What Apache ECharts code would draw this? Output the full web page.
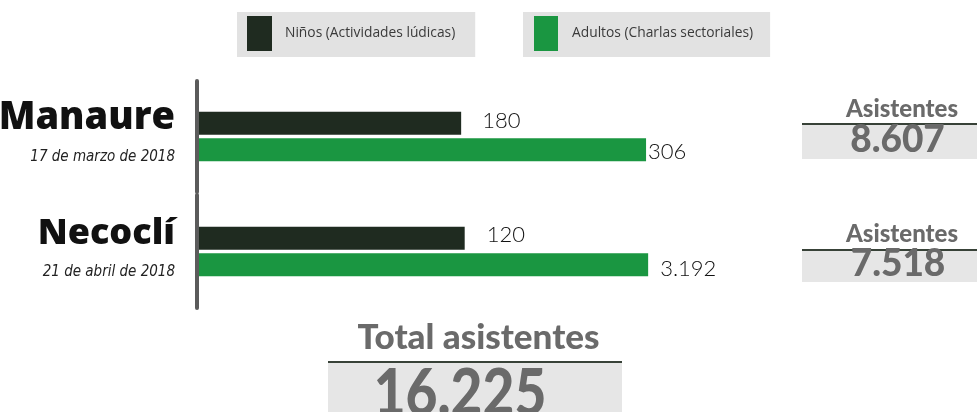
<!DOCTYPE html>
<html>
<head>
<meta charset="utf-8">
<script src="https://cdn.jsdelivr.net/npm/echarts@6/dist/echarts.min.js"></script>
<style>
html,body{margin:0;padding:0;background:#fff;}
#chart{width:977px;height:412px;}
</style>
</head>
<body>
<div id="chart"></div>
<script>
// ---- data ----
const locations = ['Manaure', 'Necoclí'];
const dates = ['17 de marzo de 2018', '21 de abril de 2018'];
const seriesNames = ['Niños (Actividades lúdicas)', 'Adultos (Charlas sectoriales)'];
const ninos = [180, 120];
const adultos = [306, 3192];
const asistentes = [8607, 7518];
const totalAsistentes = 16225;

// ---- styles ----
const DARK = '#1f2b20';
const GREEN = '#1a9641';
const GRAYTXT = '#6a6a6a';
const BOXFILL = '#e6e6e6';
const RULE = '#384238';
const CONDENSED = '"DejaVu Sans Condensed", "Liberation Sans Narrow", sans-serif';

function fmt(v) { return String(v).replace(/\B(?=(\d{3})+(?!\d))/g, '.'); }

const chart = echarts.init(document.getElementById('chart'), null, { renderer: 'canvas' });

const grids = [
  { left: 197, top: 81, width: 587, height: 111, outerBoundsMode: 'none', containLabel: false },
  { left: 197, top: 195, width: 515, height: 113, outerBoundsMode: 'none', containLabel: false }
];
const xAxes = [
  { gridIndex: 0, type: 'value', min: 0, max: 400, show: false },
  { gridIndex: 1, type: 'log', logBase: 10, min: 1, max: 10000, show: false }
];
const nameSizes = [38, 36];
const yAxes = locations.map((loc, i) => ({
  gridIndex: i,
  type: 'category',
  inverse: true,
  data: [loc],
  z: 5,
  axisLine: { show: true, lineStyle: { color: '#5b5b5b', width: 4 } },
  axisTick: { show: false },
  splitLine: { show: false },
  axisLabel: {
    margin: 22,
    align: 'right',
    formatter: (v) => '{n' + i + '|' + v + '}\n{d|' + dates[i] + '}',
    rich: {
      ['n' + i]: { fontFamily: 'Open Sans', fontWeight: 800, fontSize: nameSizes[i], color: '#111', lineHeight: 42, align: 'right' },
      d: { fontFamily: CONDENSED, fontStyle: 'italic', fontSize: 15, color: '#222', lineHeight: 36, align: 'right' }
    }
  }
}));

const labelBase = { show: true, position: 'right', fontFamily: 'Lato', fontWeight: 300, fontSize: 22, color: '#111', formatter: (p) => fmt(p.value) };
const ninosLabel = [{ distance: 21, offset: [0, -2] }, { distance: 22, offset: [0, -3] }];
const adultosLabel = [{ distance: 2, offset: [0, 2] }, { distance: 12, offset: [0, 4] }];

const series = [];
locations.forEach((loc, i) => {
  series.push({
    type: 'bar', name: seriesNames[0], xAxisIndex: i, yAxisIndex: i,
    data: [ninos[i]], barWidth: 23, barGap: '15%',
    itemStyle: { color: DARK },
    label: Object.assign({}, labelBase, ninosLabel[i]),
    emphasis: { disabled: true }
  });
  series.push({
    type: 'bar', name: seriesNames[1], xAxisIndex: i, yAxisIndex: i,
    data: [adultos[i]], barWidth: 23, barGap: '15%',
    itemStyle: { color: GREEN },
    label: Object.assign({}, labelBase, adultosLabel[i]),
    emphasis: { disabled: true }
  });
});

const legendText = { fontFamily: 'Open Sans', fontSize: 13.8, color: '#3a3a3a', align: 'left' };
const legends = [
  { data: [seriesNames[0]], left: 237, top: 12, padding: [4, 20, 6, 10], itemWidth: 25, itemHeight: 35,
    backgroundColor: '#e2e2e2', icon: 'rect', selectedMode: false,
    textStyle: Object.assign({}, legendText, { width: 170, overflow: 'none', padding: [0, 0, 0, 8] }) },
  { data: [seriesNames[1]], left: 523, top: 12, padding: [4, 17, 6, 11], itemWidth: 24, itemHeight: 35,
    backgroundColor: '#e2e2e2', icon: 'rect', selectedMode: false,
    textStyle: Object.assign({}, legendText, { width: 176, overflow: 'none', padding: [0, 0, 0, 9] }) }
];

// summary boxes (right side + bottom)
const boxRows = [
  { rule: 124, boxTop: 125, boxH: 34, title: 109, titleX: 902, num: 140.5, numX: 897.5 },
  { rule: 250, boxTop: 251, boxH: 31, title: 234, titleX: 902, num: 264.5, numX: 898 }
];
const graphic = [];
boxRows.forEach((b, i) => {
  graphic.push({ type: 'rect', shape: { x: 802, y: b.boxTop, width: 175, height: b.boxH }, style: { fill: BOXFILL }, silent: true });
  graphic.push({ type: 'line', shape: { x1: 802, y1: b.rule, x2: 977, y2: b.rule }, style: { stroke: RULE, lineWidth: 2 }, silent: true });
  graphic.push({ type: 'text', x: b.titleX, y: b.title, style: { text: 'Asistentes', fill: GRAYTXT, font: '900 24px Lato', align: 'center', verticalAlign: 'middle' }, silent: true });
  graphic.push({ type: 'text', x: b.numX, y: b.num, style: { text: fmt(asistentes[i]), fill: GRAYTXT, font: '900 37px Lato', align: 'center', verticalAlign: 'middle' }, silent: true });
});
graphic.push({ type: 'rect', shape: { x: 328, y: 363, width: 294, height: 60 }, style: { fill: BOXFILL }, silent: true });
graphic.push({ type: 'line', shape: { x1: 328, y1: 362, x2: 622, y2: 362 }, style: { stroke: RULE, lineWidth: 2 }, silent: true });
graphic.push({ type: 'text', x: 478.5, y: 338, style: { text: 'Total asistentes', fill: GRAYTXT, font: '900 35px Lato', align: 'center', verticalAlign: 'middle' }, silent: true });
graphic.push({ type: 'text', x: 460, y: 394, scaleX: 0.86, style: { text: fmt(totalAsistentes), fill: GRAYTXT, font: '900 64px Lato', align: 'center', verticalAlign: 'middle' }, silent: true });

chart.setOption({
  animation: false,
  backgroundColor: '#fff',
  grid: grids,
  xAxis: xAxes,
  yAxis: yAxes,
  legend: legends,
  series: series,
  graphic: graphic
});
</script>
</body>
</html>
